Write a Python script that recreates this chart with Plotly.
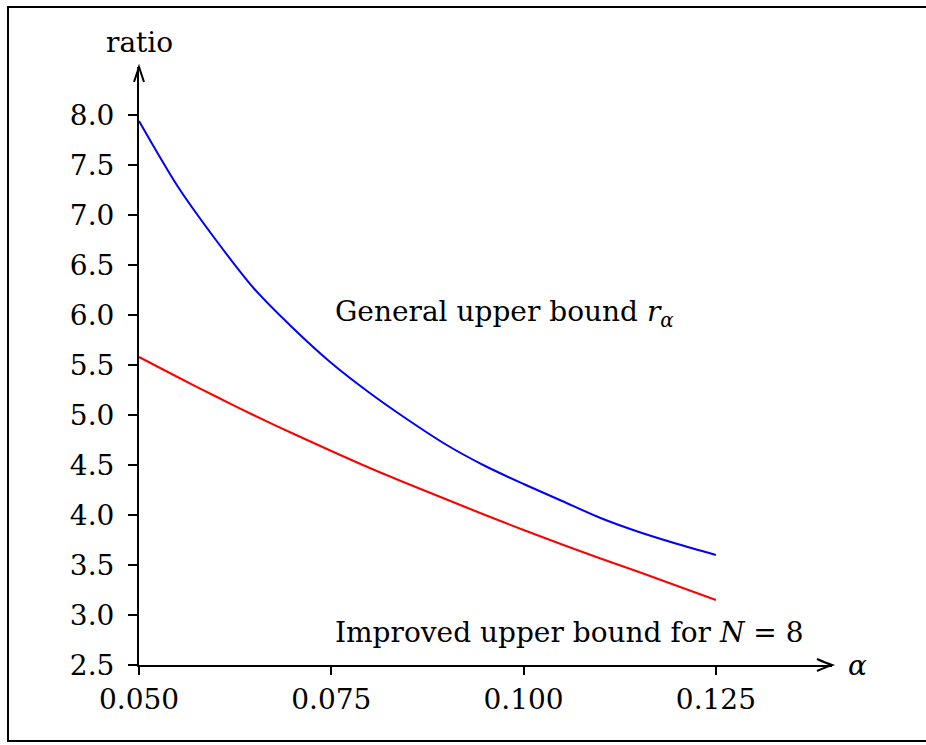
import plotly.graph_objects as go

# ---- data ----
alpha = [0.050, 0.055, 0.060, 0.065, 0.070, 0.075, 0.080, 0.085,
         0.090, 0.095, 0.100, 0.105, 0.110, 0.115, 0.120, 0.125]
general_bound = [7.94, 7.29, 6.75, 6.26, 5.87, 5.52, 5.22, 4.95,
                 4.70, 4.49, 4.31, 4.14, 3.97, 3.83, 3.71, 3.60]
improved_bound = [5.58, 5.38, 5.185, 4.995, 4.815, 4.64, 4.47, 4.31,
                  4.155, 4.00, 3.85, 3.705, 3.565, 3.43, 3.29, 3.15]
x_ticks = [0.050, 0.075, 0.100, 0.125]
y_ticks = [2.5, 3.0, 3.5, 4.0, 4.5, 5.0, 5.5, 6.0, 6.5, 7.0, 7.5, 8.0]

W, H = 926, 745
ML, MR, MT, MB = 139, 94, 67, 80
FONT = "DejaVu Serif"
FS = 28

fig = go.Figure()
fig.add_trace(go.Scatter(x=alpha, y=general_bound, mode="lines",
                         line=dict(color="#0000ff", width=2, shape="spline", smoothing=0.8),
                         showlegend=False))
fig.add_trace(go.Scatter(x=alpha, y=improved_bound, mode="lines",
                         line=dict(color="#ff0000", width=2, shape="spline", smoothing=0.8),
                         showlegend=False))

pw = W - ML - MR
ph = H - MT - MB

fig.update_layout(
    width=W, height=H,
    margin=dict(l=ML, r=MR, t=MT, b=MB),
    paper_bgcolor="white", plot_bgcolor="white",
    font=dict(family=FONT, size=FS, color="black"),
    xaxis=dict(range=[0.05, 0.05 + pw / 7692.0], tickvals=x_ticks,
               tickformat=".3f", showgrid=False, zeroline=False,
               showline=True, linecolor="black", linewidth=2,
               ticks="outside", ticklen=8, tickwidth=1.5, tickcolor="black",
               ticklabelstandoff=0),
    yaxis=dict(range=[2.5, 2.5 + ph / 100.0], tickvals=y_ticks,
               tickformat=".1f", showgrid=False, zeroline=False,
               showline=True, linecolor="black", linewidth=2,
               ticks="outside", ticklen=9, tickwidth=1.5, tickcolor="black",
               ticklabelstandoff=8),
)

# arrowheads
fig.add_shape(type="path", xref="paper", yref="paper",
              xsizemode="pixel", ysizemode="pixel", xanchor=1, yanchor=0,
              path="M -15,6 Q -6,2 0,0 Q -6,-2 -15,-6",
              line=dict(color="black", width=2), fillcolor="rgba(0,0,0,0)")
fig.add_shape(type="path", xref="paper", yref="paper",
              xsizemode="pixel", ysizemode="pixel", xanchor=0, yanchor=1,
              path="M -5,-15 Q -2,-6 0,0 Q 2,-6 5,-15",
              line=dict(color="black", width=2), fillcolor="rgba(0,0,0,0)")

# border
bx0 = (8 - ML) / pw
bx1 = (932 - ML) / pw
by1 = 1 + (MT - 7) / ph
by0 = -(H - 4 - (H - MB)) / ph
fig.add_shape(type="rect", xref="paper", yref="paper",
              x0=bx0, x1=bx1, y0=by0, y1=by1,
              line=dict(color="black", width=2), fillcolor="rgba(0,0,0,0)",
              layer="below")

# axis labels
fig.add_annotation(text="ratio", xref="paper", yref="paper", x=0, y=1,
                   yshift=25, showarrow=False, xanchor="center", yanchor="middle")
fig.add_annotation(text="<i>α</i>", xref="paper", yref="paper", x=1, y=0,
                   xshift=14, showarrow=False, xanchor="left", yanchor="middle")

# curve labels
fig.add_annotation(text="General upper bound <i>r</i><sub><i>α</i></sub>",
                   x=0.0752, y=6.02, showarrow=False, xanchor="left", yanchor="middle")
fig.add_annotation(text="Improved upper bound for <i>N</i> = 8",
                   x=0.0752, y=2.83, showarrow=False, xanchor="left", yanchor="middle")

fig.write_html("out.html")
